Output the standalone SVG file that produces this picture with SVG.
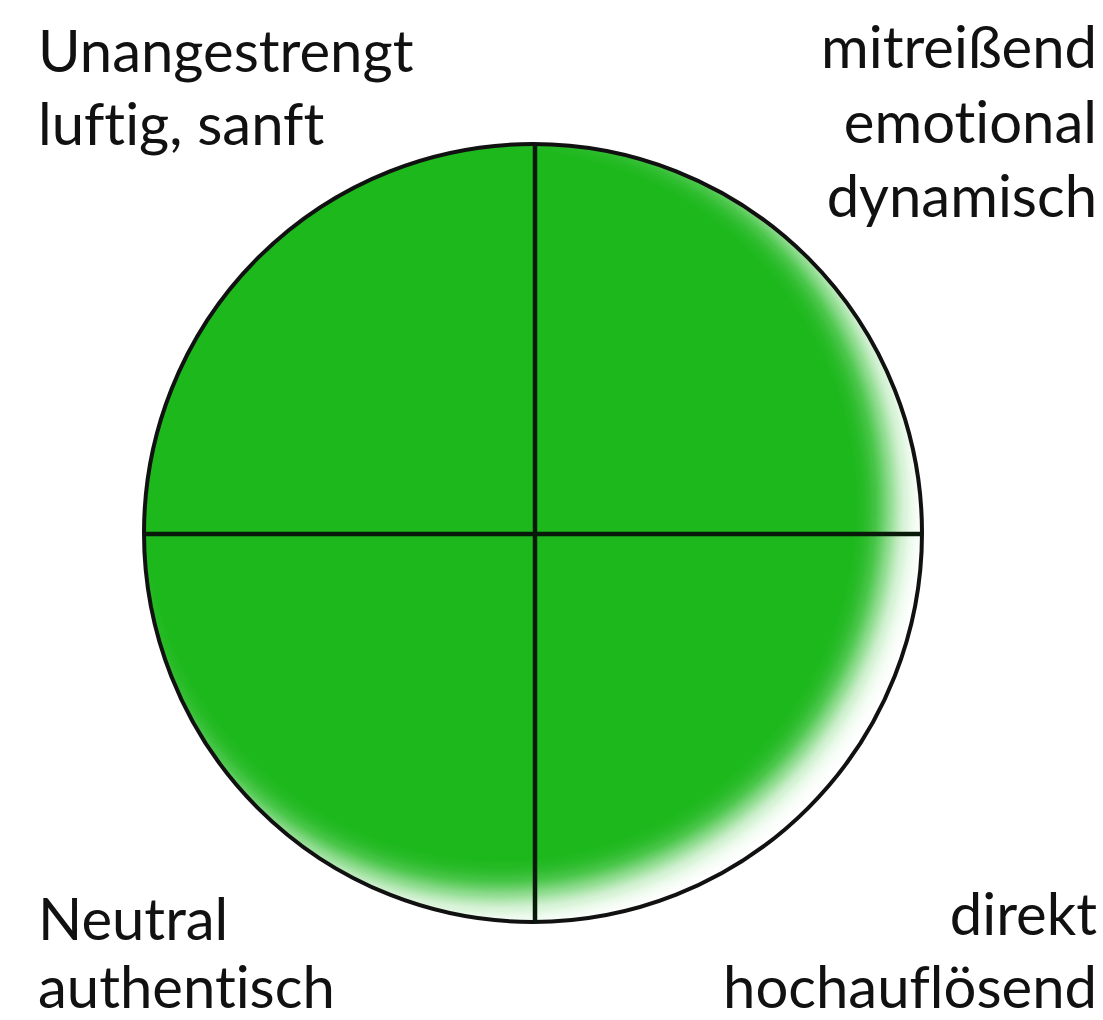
<svg xmlns="http://www.w3.org/2000/svg" width="1103" height="1020" viewBox="0 0 1103 1020">
<style>
.lbl{font-family:Lato,"Noto Sans","Liberation Sans",sans-serif;font-size:58px;fill:#111;font-variant-ligatures:none;font-feature-settings:"liga" 0;}
.r{text-anchor:end;}
.ax{stroke:#0a1a0a;stroke-width:4.5;fill:none;}
</style>
<defs>
<clipPath id="cc"><circle cx="533" cy="533" r="389"/></clipPath>
<filter id="blur" x="-20%" y="-20%" width="140%" height="140%"><feGaussianBlur stdDeviation="16"/></filter>
</defs>
<rect width="1103" height="1020" fill="#fff"/>
<g id="circle">
<g clip-path="url(#cc)">
<circle cx="500" cy="505" r="390" fill="#1cb81c" filter="url(#blur)"/>
<circle cx="500" cy="505" r="355" fill="#1cb81c"/>
</g>
<circle cx="533" cy="533" r="389" fill="none" stroke="#111" stroke-width="4"/>
</g>
<g id="connectors">
<line class="ax" x1="535" y1="145" x2="535" y2="922"/>
<line class="ax" x1="145" y1="534" x2="922" y2="534"/>
</g>
<g id="tl"><text class="lbl" x="38" y="72">Unangestrengt</text><text class="lbl" x="38" y="145">luftig, sanft</text></g>
<g id="tr"><text class="lbl r" x="1097" y="68">mitreißend</text><text class="lbl r" x="1097" y="143">emotional</text><text class="lbl r" x="1097" y="217">dynamisch</text></g>
<g id="bl"><text class="lbl" x="38" y="940">Neutral</text><text class="lbl" x="38" y="1008">authentisch</text></g>
<g id="br"><text class="lbl r" x="1097" y="935">direkt</text><text class="lbl r" x="1097" y="1008">hochauflösend</text></g>
</svg>
